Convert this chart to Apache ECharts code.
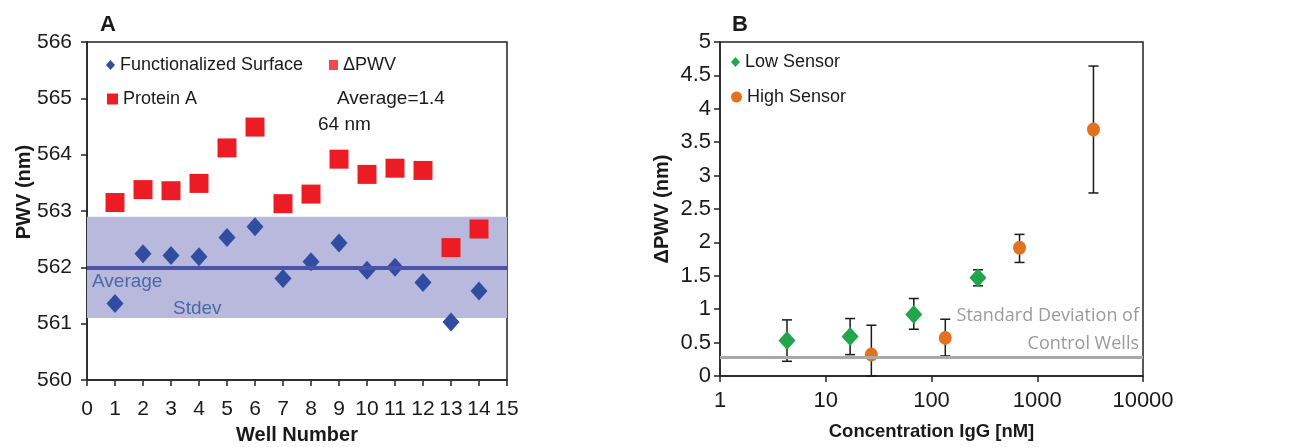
<!DOCTYPE html>
<html>
<head>
<meta charset="utf-8">
<script src="https://cdn.jsdelivr.net/npm/echarts@6/dist/echarts.min.js"></script>
<style>
  html, body { margin: 0; padding: 0; background: #fff; }
  #main { width: 1294px; height: 447px; }
</style>
</head>
<body>
<div id="main"></div>
<script>
  // panel A
  var wells = [1, 2, 3, 4, 5, 6, 7, 8, 9, 10, 11, 12, 13, 14];
  var functionalized = [561.36, 562.24, 562.21, 562.19, 562.53, 562.72, 561.80, 562.10, 562.43, 561.95, 562.00, 561.73, 561.03, 561.58];
  var proteinA = [563.15, 563.38, 563.36, 563.49, 564.12, 564.49, 563.13, 563.30, 563.92, 563.65, 563.76, 563.72, 562.35, 562.68];
  var avgPWV = 562.0;
  var stdevBand = [561.1, 562.9];

  // panel B
  var lowConc = [4.3, 17, 68, 275];
  var lowVal = [0.53, 0.59, 0.92, 1.47];
  var lowErrLo = [0.22, 0.32, 0.70, 1.35];
  var lowErrHi = [0.84, 0.86, 1.16, 1.59];
  var highConc = [27, 135, 680, 3400];
  var highVal = [0.32, 0.57, 1.92, 3.69];
  var highErrLo = [0.0, 0.30, 1.70, 2.74];
  var highErrHi = [0.76, 0.85, 2.12, 4.64];
  var controlStdev = 0.28;

  var font = 'Liberation Sans, Arial, sans-serif';

  function pairs(xs, ys) {
    return xs.map(function (x, i) { return [x, ys[i]] })
  }
  function bars(xs, lo, hi) {
    return xs.map(function (x, i) { return [x, lo[i], hi[i]] })
  }
  function errorBar(params, api) {
    var top = api.coord([api.value(0), api.value(2)])
    var bot = api.coord([api.value(0), api.value(1)])
    var style = { stroke: '#1a1a1a', lineWidth: 1.5 }
    return {
      type: 'group',
      children: [
        { type: 'line', shape: { x1: top[0], y1: top[1], x2: bot[0], y2: bot[1] }, style: style },
        { type: 'line', shape: { x1: top[0] - 5, y1: top[1], x2: top[0] + 5, y2: top[1] }, style: style },
        { type: 'line', shape: { x1: bot[0] - 5, y1: bot[1], x2: bot[0] + 5, y2: bot[1] }, style: style }
      ]
    }
  }

  var axisLine = { show: true, lineStyle: { color: '#222', width: 1.5 } };
  var axisTick = { show: true, inside: false, length: 6, lineStyle: { color: '#222', width: 1.5 } };
  var label = { color: '#1a1a1a', fontSize: 21, fontFamily: font };
  var labelB = { color: '#1a1a1a', fontSize: 22, fontFamily: font };
  var nameStyle = { color: '#1a1a1a', fontSize: 20, fontWeight: 'bold', fontFamily: font };
  var legendText = { fontSize: 18, color: '#1a1a1a', fontFamily: font };

  var chart = echarts.init(document.getElementById('main'));
  chart.setOption({
    animation: false,
    backgroundColor: '#fff',
    grid: [
      { left: 87, top: 42, right: 787, bottom: 67, show: true, borderColor: '#222', borderWidth: 1.5, outerBoundsMode: 'none' },
      { left: 720, top: 42, right: 151, bottom: 71, show: true, borderColor: '#222', borderWidth: 1.5, outerBoundsMode: 'none' }
    ],
    xAxis: [
      {
        gridIndex: 0, type: 'value', min: 0, max: 15, interval: 1,
        axisLine: axisLine, axisTick: axisTick, splitLine: { show: false },
        axisLabel: Object.assign({ margin: 19 }, label),
        name: 'Well Number', nameLocation: 'middle', nameGap: 45, nameTextStyle: nameStyle
      },
      {
        gridIndex: 1, type: 'log', logBase: 10, min: 1, max: 10000,
        axisLine: axisLine, axisTick: axisTick, splitLine: { show: false }, minorTick: { show: false },
        axisLabel: Object.assign({ margin: 14, formatter: function (v) { return String(v) } }, labelB),
        name: 'Concentration IgG [nM]', nameLocation: 'middle', nameGap: 46,
        nameTextStyle: Object.assign({}, nameStyle, { fontSize: 18.5 })
      }
    ],
    yAxis: [
      {
        gridIndex: 0, type: 'value', min: 560, max: 566, interval: 1,
        axisLine: axisLine, axisTick: axisTick, splitLine: { show: false },
        axisLabel: Object.assign({ margin: 15 }, label)
      },
      {
        gridIndex: 1, type: 'value', min: 0, max: 5, interval: 0.5,
        axisLine: axisLine, axisTick: axisTick, splitLine: { show: false },
        axisLabel: Object.assign({ margin: 9 }, labelB),
        name: 'ΔPWV (nm)', nameLocation: 'middle', nameGap: 48, nameTextStyle: nameStyle
      }
    ],
    legend: [
      {
        left: 106, top: 56, padding: 0, data: [{ name: 'Functionalized Surface', icon: 'diamond' }],
        itemWidth: 9, itemHeight: 10, textStyle: legendText
      },
      {
        left: 107, top: 90, padding: 0, data: [{ name: 'Protein A', icon: 'rect' }],
        itemWidth: 11, itemHeight: 11, textStyle: legendText
      },
      {
        left: 329, top: 56, padding: 0, data: [{ name: 'ΔPWV', icon: 'rect' }],
        itemWidth: 9, itemHeight: 10, textStyle: legendText
      },
      {
        left: 731, top: 53, padding: 0, data: [{ name: 'Low Sensor', icon: 'diamond' }],
        itemWidth: 9, itemHeight: 10, textStyle: legendText
      },
      {
        left: 731, top: 88, padding: 0, data: [{ name: 'High Sensor', icon: 'circle' }],
        itemWidth: 11, itemHeight: 11, textStyle: legendText
      }
    ],
    graphic: [
      { type: 'text', z: 100, left: 100, top: 14, style: { text: 'A', fontSize: 22, fontWeight: 'bold', fontFamily: font, fill: '#1a1a1a' } },
      { type: 'text', z: 100, left: 732, top: 14, style: { text: 'B', fontSize: 22, fontWeight: 'bold', fontFamily: font, fill: '#1a1a1a' } },
      {
        type: 'text', z: 100, x: 24, y: 192, rotation: Math.PI / 2,
        style: { text: 'PWV (nm)', fontSize: 20, fontWeight: 'bold', fontFamily: font, fill: '#1a1a1a', align: 'center', verticalAlign: 'middle' }
      },
      { type: 'text', z: 100, left: 337, top: 89, style: { text: 'Average=1.4', fontSize: 19, fontFamily: font, fill: '#1a1a1a' } },
      { type: 'text', z: 100, left: 318, top: 115, style: { text: '64 nm', fontSize: 19, fontFamily: font, fill: '#1a1a1a' } },
      { type: 'text', z: 100, left: 92, top: 272, style: { text: 'Average', fontSize: 19, fontFamily: font, fill: '#4a68a6' } },
      { type: 'text', z: 100, left: 173, top: 299, style: { text: 'Stdev', fontSize: 19, fontFamily: font, fill: '#4a68a6' } },
      { type: 'text', z: 100, right: 1294 - 1139, top: 307, style: { text: 'Standard Deviation of', fontSize: 18, fontFamily: 'Open Sans, sans-serif', fill: '#9b9b9b', align: 'right' } },
      { type: 'text', z: 100, right: 1294 - 1139, top: 335, style: { text: 'Control Wells', fontSize: 18, fontFamily: 'Open Sans, sans-serif', fill: '#9b9b9b', align: 'right' } }
    ],
    series: [
      {
        type: 'line', xAxisIndex: 0, yAxisIndex: 0, data: [], z: 1, silent: true,
        markArea: {
          silent: true,
          itemStyle: { color: '#b9b9de' },
          data: [[{ coord: [0, stdevBand[0]] }, { coord: [15, stdevBand[1]] }]]
        },
        markLine: {
          silent: true, symbol: 'none', label: { show: false },
          lineStyle: { color: '#4b53a8', width: 4, type: 'solid' },
          data: [{ yAxis: avgPWV }]
        }
      },
      {
        name: 'Functionalized Surface', type: 'scatter', xAxisIndex: 0, yAxisIndex: 0, z: 3,
        symbol: 'diamond', symbolSize: [17, 19], itemStyle: { color: '#2f4ea2', opacity: 1 },
        data: pairs(wells, functionalized)
      },
      {
        name: 'Protein A', type: 'scatter', xAxisIndex: 0, yAxisIndex: 0, z: 3,
        symbol: 'rect', symbolSize: 19, itemStyle: { color: '#ec1c24', opacity: 1 },
        data: pairs(wells, proteinA)
      },
      {
        name: 'ΔPWV', type: 'scatter', xAxisIndex: 0, yAxisIndex: 0,
        symbol: 'rect', itemStyle: { color: '#ec1c24' }, data: []
      },
      {
        type: 'line', xAxisIndex: 1, yAxisIndex: 1, data: [], z: 1, silent: true,
        markLine: {
          silent: true, symbol: 'none', label: { show: false },
          lineStyle: { color: '#a9a9a9', width: 3, type: 'solid' },
          data: [{ yAxis: controlStdev }]
        }
      },
      {
        type: 'custom', xAxisIndex: 1, yAxisIndex: 1, z: 2, silent: true,
        renderItem: errorBar, data: bars(lowConc, lowErrLo, lowErrHi)
      },
      {
        type: 'custom', xAxisIndex: 1, yAxisIndex: 1, z: 2, silent: true,
        renderItem: errorBar, data: bars(highConc, highErrLo, highErrHi)
      },
      {
        name: 'Low Sensor', type: 'scatter', xAxisIndex: 1, yAxisIndex: 1, z: 3,
        symbol: 'diamond', symbolSize: [17, 19], itemStyle: { color: '#21a64b', opacity: 1 },
        data: pairs(lowConc, lowVal)
      },
      {
        name: 'High Sensor', type: 'scatter', xAxisIndex: 1, yAxisIndex: 1, z: 3,
        symbol: 'circle', symbolSize: [13, 14], itemStyle: { color: '#e2721f', opacity: 1 },
        data: pairs(highConc, highVal)
      }
    ]
  });
</script>
</body>
</html>
